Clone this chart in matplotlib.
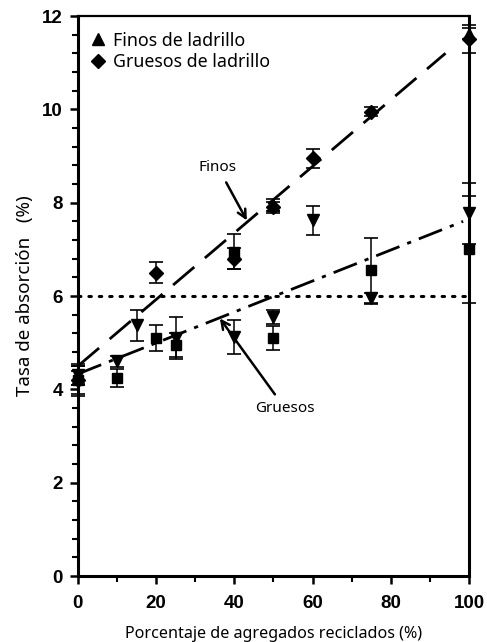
import matplotlib.pyplot as plt
import numpy as np

# Tasa de absorcion vs porcentaje de agregados reciclados
x_fl = [0, 50, 100]                       # finos de ladrillo (triangulo)
y_fl = [4.25, 7.95, 11.62]
e_fl = [0.15, 0.12, 0.12]

x_gl = [0, 20, 40, 50, 60, 75, 100]       # gruesos de ladrillo (rombo)
y_gl = [4.2, 6.5, 6.8, 7.9, 8.95, 9.95, 11.5]
e_gl = [0.3, 0.22, 0.22, 0.12, 0.2, 0.1, 0.3]

x_td = [0, 10, 15, 25, 40, 50, 60, 75, 100]   # triangulo invertido
y_td = [4.3, 4.6, 5.37, 5.1, 5.12, 5.55, 7.62, 5.95, 7.77]
e_td = [0.2, 0.12, 0.33, 0.45, 0.37, 0.15, 0.32, 0.12, 0.65]

x_sq = [0, 10, 20, 25, 40, 50, 75, 100]       # cuadrado
y_sq = [4.2, 4.24, 5.1, 4.95, 6.95, 5.1, 6.55, 7.0]
e_sq = [0.35, 0.2, 0.28, 0.25, 0.38, 0.25, 0.7, 1.15]

# rectas de ajuste
fit_finos = (4.5, 0.0713)
fit_gruesos = (4.33, 0.0332)
umbral = 6.0

fig = plt.figure(figsize=(4.87, 6.42), dpi=100)
ax = fig.add_axes([0.160, 0.1028, 0.803, 0.8722])

eb = dict(ecolor='black', elinewidth=1.1, capsize=5, capthick=1.2, linestyle='none',
          color='black', clip_on=False)
for data, mk, ms in [((x_sq, y_sq, e_sq), 's', 7.5), ((x_td, y_td, e_td), 'v', 8.5),
                     ((x_gl, y_gl, e_gl), 'D', 7.5), ((x_fl, y_fl, e_fl), '^', 8.5)]:
    ax.errorbar(data[0], data[1], yerr=data[2], marker=mk, markersize=ms, zorder=4, **eb)

xf = np.array([0, 94])
ax.plot(xf, fit_finos[0] + fit_finos[1] * xf, color='black', lw=2.0, dashes=(10, 5))
xg = np.array([0, 98.5])
ax.plot(xg, fit_gruesos[0] + fit_gruesos[1] * xg, color='black', lw=2.0, dashes=(9, 3, 1.5, 3))
ax.plot([0, 100], [umbral, umbral], color='black', lw=2.2, dashes=(0.8, 2.6), dash_capstyle='round')

# leyenda solo con los agregados de ladrillo
h1, = ax.plot([], [], 'k^', markersize=8.5)
h2, = ax.plot([], [], 'kD', markersize=7.5)
ax.legend([h1, h2], ['Finos de ladrillo', 'Gruesos de ladrillo'], loc='upper left',
          bbox_to_anchor=(0.015, 0.985), frameon=False, handlelength=0.8, handletextpad=0.45,
          labelspacing=0.2, borderaxespad=0.0, prop={'family': 'Noto Sans', 'size': 12.8})

ax.annotate('Finos', xy=(43.2, 7.62), xytext=(35.8, 8.76), ha='center', va='center',
            fontsize=11, family='Noto Sans',
            arrowprops=dict(arrowstyle='->', lw=1.8, color='black', shrinkA=4, shrinkB=0,
                            mutation_scale=15))
ax.annotate('Gruesos', xy=(36.3, 5.52), xytext=(52.9, 3.6), ha='center', va='center',
            fontsize=11, family='Noto Sans',
            arrowprops=dict(arrowstyle='->', lw=1.8, color='black', shrinkA=3, shrinkB=0,
                            mutation_scale=15))

ax.set_xlim(0, 100)
ax.set_ylim(0, 12)
ax.set_xticks(np.arange(0, 101, 20))
ax.set_xticks(np.arange(10, 100, 20), minor=True)
ax.set_yticks(np.arange(0, 13, 2))
ax.set_yticks(np.arange(0, 12.01, 0.4), minor=True)
ax.tick_params(which='major', direction='out', length=6, width=1.8)
ax.tick_params(axis='x', which='major', pad=8)
ax.tick_params(axis='y', which='major', pad=5)
ax.tick_params(which='minor', direction='out', length=4, width=1.5)
for lab in ax.get_xticklabels() + ax.get_yticklabels():
    lab.set_fontfamily('Liberation Sans')
    lab.set_fontweight('bold')
    lab.set_fontsize(13.5)

for s in ['left', 'bottom', 'right']:
    ax.spines[s].set_linewidth(2.2)
ax.spines['top'].set_linewidth(1.6)

ax.set_xlabel('Porcentaje de agregados reciclados (%)', family='Noto Sans', fontsize=11.6, labelpad=10)
ax.set_ylabel('Tasa de absorción   (%)', family='Noto Sans', fontsize=13.5, labelpad=6)

plt.savefig('out.png', dpi=100)
